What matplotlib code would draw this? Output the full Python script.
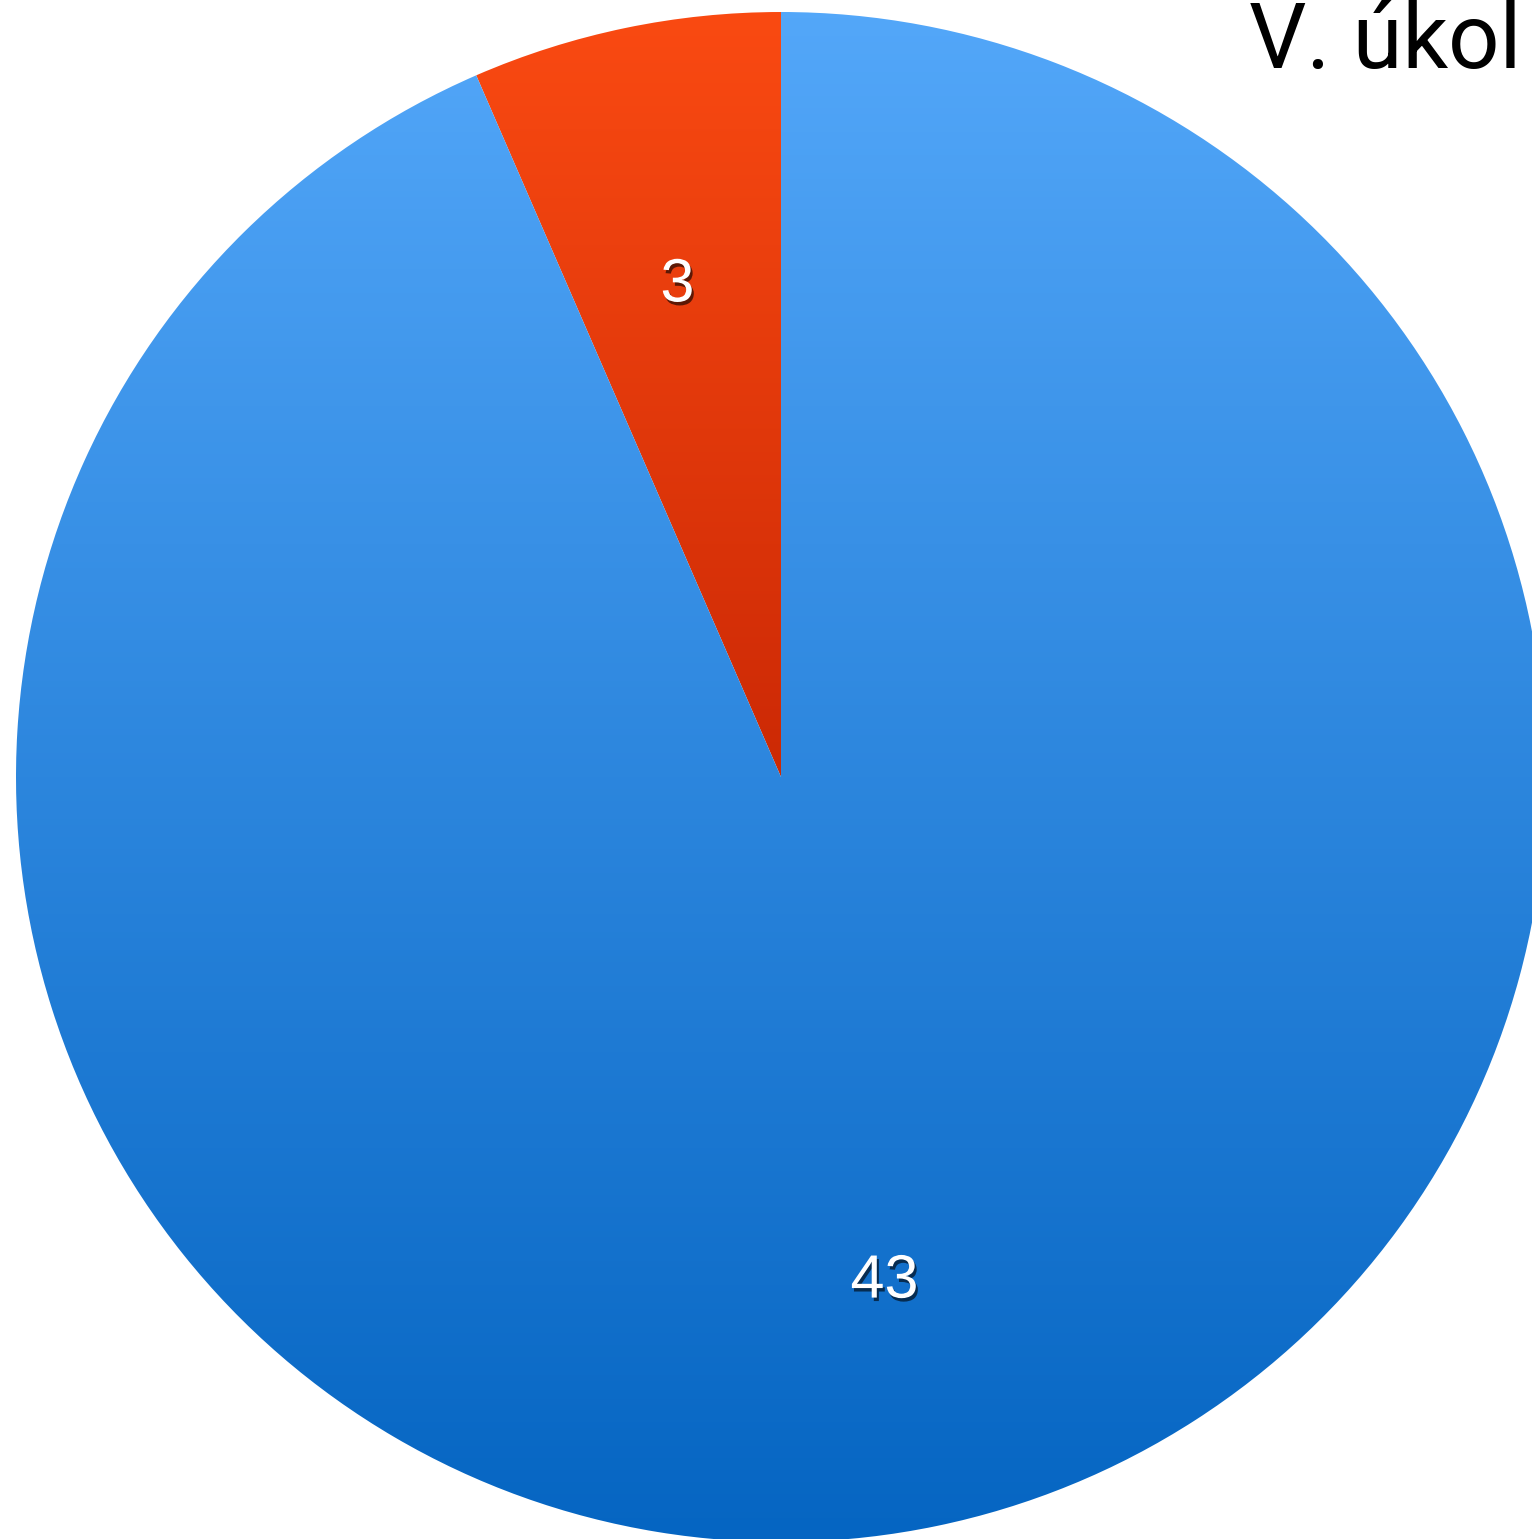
import matplotlib
matplotlib.use('Agg')
import matplotlib.pyplot as plt
import matplotlib.patheffects as pe
import matplotlib.transforms as mtransforms
import numpy as np
from matplotlib.colors import LinearSegmentedColormap

# data
labels = ['3', '43']
values = [3, 43]
title = 'V. úkol'

# colours (top, bottom) of each slice's gradient
grad_colors = [('#FA4A12', '#CC2905'), ('#53A7F9', '#0565C2')]

W, H = 1532, 1539
fig = plt.figure(figsize=(W / 100, H / 100), dpi=100)
ax = fig.add_axes([0, 0, 1, 1])

cx, cy, r = 781, H - 777, 765

wedges, texts = ax.pie(values, labels=labels, startangle=90, counterclock=True,
                       center=(cx, cy), radius=r, labeldistance=0.665,
                       wedgeprops=dict(linewidth=0), frame=True)
ax.axis('off')
ax.set_xlim(0, W)
ax.set_ylim(0, H)

# gradient fill clipped to each wedge
for w, (top, bot) in zip(wedges, grad_colors):
    w.set_facecolor('none')
    bb = w.get_path().get_extents(w.get_patch_transform())
    cmap = LinearSegmentedColormap.from_list('g', [bot, top])
    grad = np.linspace(0, 1, 256).reshape(-1, 1)
    im = ax.imshow(grad, cmap=cmap, origin='lower', aspect='auto',
                   extent=[bb.x0, bb.x1, bb.y0, bb.y1], zorder=1)
    im.set_clip_path(w)

# nudge labels down a little
shift = mtransforms.ScaledTranslation(0, -7 / 100, fig.dpi_scale_trans)
for t in texts:
    t.set_color('white')
    t.set_fontsize(44)
    t.set_family('Liberation Sans')
    t.set_ha('center')
    t.set_va('center')
    t.set_zorder(5)
    t.set_transform(t.get_transform() + shift)
    t.set_path_effects([pe.SimplePatchShadow(offset=(1.5, -2.5), shadow_rgbFace='black', alpha=0.6),
                        pe.Normal()])

ax.text(1249, H - 68, title, fontsize=65, family='Roboto', fontweight='normal',
        ha='left', va='baseline', color='black', zorder=6)

fig.savefig('out.png', dpi=100)
